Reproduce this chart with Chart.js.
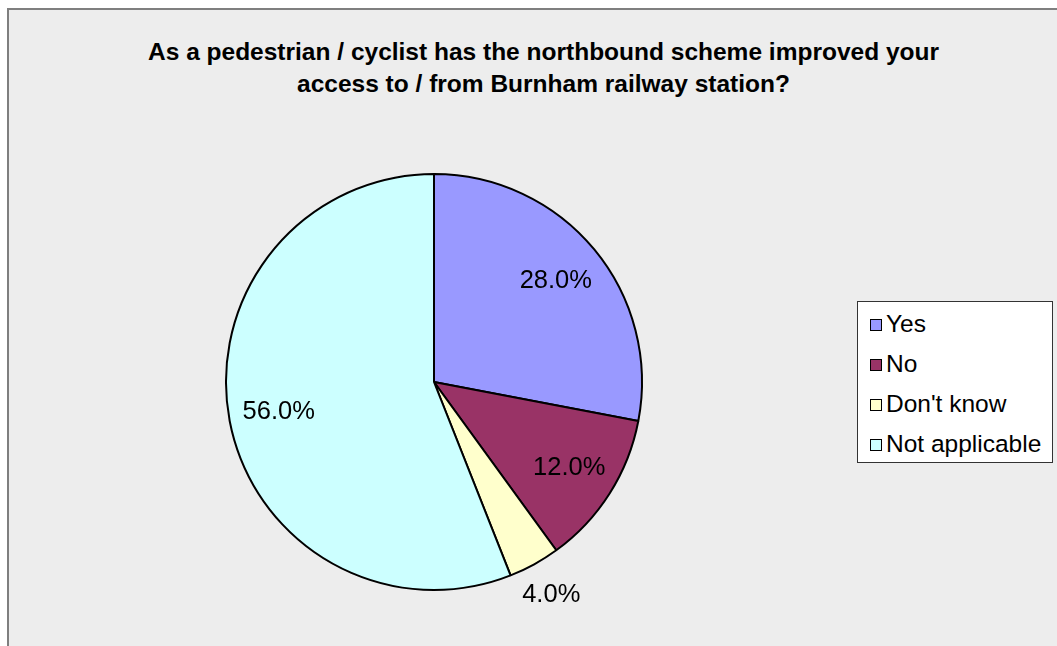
<!DOCTYPE html>
<html>
<head>
<meta charset="utf-8">
<script src="https://cdn.jsdelivr.net/npm/chart.js@4/dist/chart.umd.min.js"></script>
<style>
  body { margin: 0; background: #fff; font-family: "Liberation Sans", Arial, sans-serif; }
  #frame {
    position: absolute; left: 7px; top: 8px; right: 0; bottom: 0;
    background: #ededed;
    border-left: 2px solid #7f7f7f; border-top: 2px solid #7f7f7f;
  }
  #title {
    position: absolute; left: 0; width: 1087px; top: 36px;
    text-align: center; font-weight: bold; font-size: 24.5px; line-height: 32px; color: #000;
  }
  #legend {
    position: absolute; left: 857px; top: 301px; width: 196px; height: 162px;
    background: #fff; border: 1px solid #333; box-sizing: border-box;
    padding-top: 8px;
  }
  .item { height: 40px; line-height: 28px; font-size: 24.5px; white-space: nowrap; }
  .sw { display: inline-block; width: 10px; height: 10px; border: 1.5px solid #000; margin: 0 4px 0 12px; vertical-align: 1px; }
  canvas { position: absolute; left: 0; top: 0; }
</style>
</head>
<body>
<div id="frame"></div>
<div id="title">As a pedestrian / cyclist has the northbound scheme improved your<br>access to / from Burnham railway station?</div>
<canvas id="pie" width="1057" height="646"></canvas>
<div id="legend"></div>
<script>
const labels = ['Yes', 'No', "Don't know", 'Not applicable'];
const values = [28.0, 12.0, 4.0, 56.0];
const colors = ['#9999ff', '#993366', '#ffffcc', '#ccffff'];
// how far from the centre each percentage label sits, as a share of the radius
const labelRadius = [0.76, 0.77, 1.17, 0.76];

const legend = document.getElementById('legend');
labels.forEach((name, i) => {
  legend.innerHTML += `<div class="item"><span class="sw" style="background:${colors[i]}"></span>${name}</div>`;
});

const pctLabels = {
  id: 'pctLabels',
  afterDatasetsDraw(chart) {
    const ctx = chart.ctx;
    const arcs = chart.getDatasetMeta(0).data;
    ctx.save();
    ctx.font = '25.5px "Liberation Sans", Arial, sans-serif';
    ctx.fillStyle = '#000';
    ctx.textAlign = 'center';
    ctx.textBaseline = 'middle';
    arcs.forEach((arc, i) => {
      const mid = (arc.startAngle + arc.endAngle) / 2;
      const r = arc.outerRadius * labelRadius[i];
      const x = arc.x + Math.cos(mid) * r;
      const y = arc.y + Math.sin(mid) * r;
      ctx.fillText(values[i].toFixed(1) + '%', x, y);
    });
    ctx.restore();
  }
};

new Chart(document.getElementById('pie').getContext('2d'), {
  type: 'pie',
  data: {
    labels: labels,
    datasets: [{
      data: values,
      backgroundColor: colors,
      borderColor: '#000',
      borderWidth: 2
    }]
  },
  options: {
    responsive: false,
    animation: false,
    layout: { padding: { left: 225, right: 414, top: 173, bottom: 55 } },
    plugins: {
      legend: { display: false },
      tooltip: { enabled: false }
    }
  },
  plugins: [pctLabels]
});
</script>
</body>
</html>
